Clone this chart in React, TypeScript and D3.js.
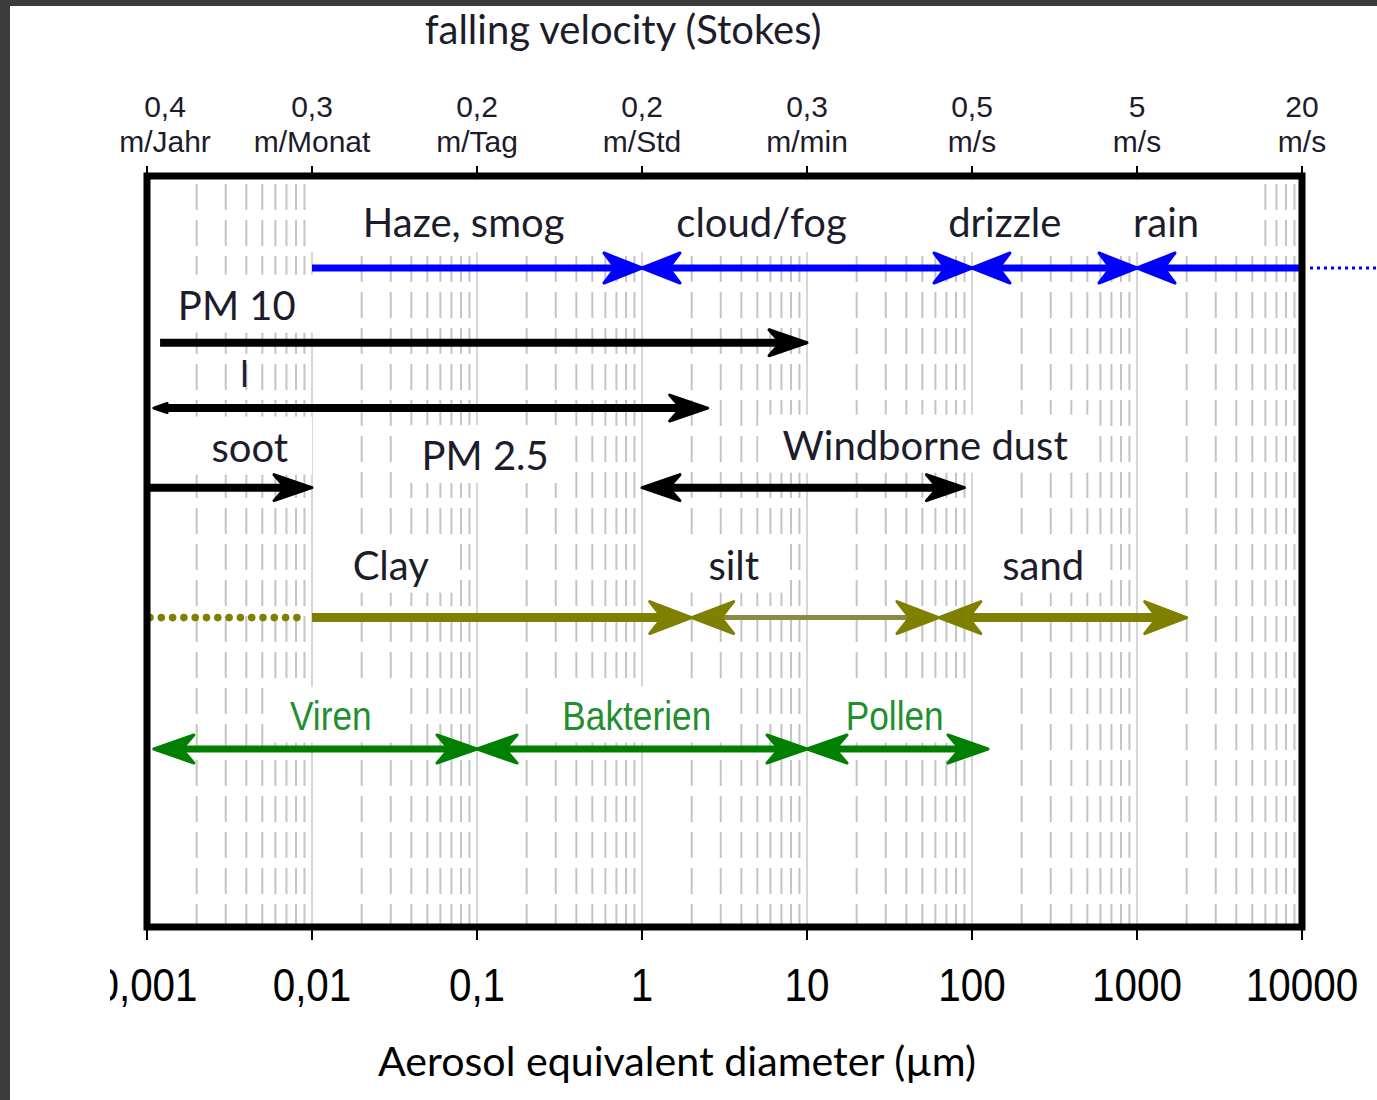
import React, { useEffect, useRef } from 'react';
import * as d3 from 'd3';

// bottom axis: aerosol diameter in µm
const diameterTicks = [0.001, 0.01, 0.1, 1, 10, 100, 1000, 10000];
const diameterLabels = ['0,001', '0,01', '0,1', '1', '10', '100', '1000', '10000'];

// top axis: falling velocity (Stokes) at each decade
const velocityValues = ['0,4', '0,3', '0,2', '0,2', '0,3', '0,5', '5', '20'];
const velocityUnits = ['m/Jahr', 'm/Monat', 'm/Tag', 'm/Std', 'm/min', 'm/s', 'm/s', 'm/s'];

// atmospheric water
const weatherNames = ['Haze, smog', 'cloud/fog', 'drizzle', 'rain'];
const weatherFrom = [0.01, 1, 100, 1000];
const weatherTo = [1, 100, 1000, 10000];
const weatherLabelAt = [0.083, 5.3, 158, 1500];
const weatherHeads = ['end', 'both', 'both', 'start'];

// particulate matter
const pmNames = ['PM 10', 'PM 2.5', 'soot', 'Windborne dust'];
const pmFrom = [0.0012, 0.0011, 0.00104, 1];
const pmTo = [10, 2.5, 0.01, 90];
const pmLabelAt = [0.0035, 0.112, 0.0042, 52];
const pmHeads = ['end', 'both', 'end', 'both'];

// soil fractions
const soilNames = ['Clay', 'silt', 'sand'];
const soilFrom = [0.01, 2, 63];
const soilTo = [2, 63, 2000];
const soilLabelAt = [0.03, 3.6, 270];
const soilHeads = ['end', 'both', 'both'];
const clayDotted = [0.001, 0.01];

// biological particles
const bioNames = ['Viren', 'Bakterien', 'Pollen'];
const bioFrom = [0.0011, 0.1, 10];
const bioTo = [0.1, 10, 125];
const bioLabelAt = [0.013, 0.93, 34];
const bioHeads = ['both', 'both', 'both'];

const W = 1377;
const H = 1100;
const calibri = 'Lato, "Open Sans", sans-serif';
const arial = '"Liberation Sans", Arial, sans-serif';

export default function App() {
  const ref = useRef<SVGSVGElement>(null);

  useEffect(() => {
    const svg = d3.select(ref.current);
    svg.selectAll('*').remove();

    const left = 147, right = 1302, top = 176, bottom = 927;
    const x = d3.scaleLog().domain([0.001, 10000]).range([left, right]);
    // vertical layout of the rows, in percent of the plot height
    const y = d3.scaleLinear().domain([0, 100]).range([top, bottom]);

    // dark frame + white page
    svg.append('rect').attr('width', W).attr('height', H).attr('fill', '#3b3b3b');
    svg.append('rect').attr('x', 10).attr('y', 6).attr('width', W - 10).attr('height', H - 6).attr('fill', '#fff');

    // grid
    const grid = svg.append('g');
    const minors: number[] = [];
    diameterTicks.slice(0, -1).forEach((d) => {
      for (let m = 2; m <= 9; m++) minors.push(d * m);
    });
    grid.selectAll('line.minor')
      .data(minors)
      .enter()
      .append('line')
      .attr('x1', (d) => x(d)).attr('x2', (d) => x(d))
      .attr('y1', top + 8).attr('y2', bottom)
      .attr('stroke', '#c4c4c4')
      .attr('stroke-width', 2)
      .attr('stroke-dasharray', '26 10');
    grid.selectAll('line.major')
      .data(diameterTicks.slice(1, -1))
      .enter()
      .append('line')
      .attr('x1', (d) => x(d)).attr('x2', (d) => x(d))
      .attr('y1', top).attr('y2', bottom)
      .attr('stroke', '#c8c8c8')
      .attr('stroke-width', 1.5);

    const boxes = svg.append('g');
    const marks = svg.append('g');
    const labels = svg.append('g');

    const arrow = (x1: number, x2: number, yy: number, color: string, width: number,
      heads: string, L: number, Wd: number, startScale = 1, headColor = color) => {
      const N = L * 0.3;
      const hasStart = heads === 'start' || heads === 'both';
      const hasEnd = heads === 'end' || heads === 'both';
      const a = hasStart ? x1 + (L * startScale - N * startScale) - 2 : x1;
      const b = hasEnd ? x2 - (L - N) + 2 : x2;
      marks.append('line')
        .attr('x1', a).attr('x2', b).attr('y1', yy).attr('y2', yy)
        .attr('stroke', color).attr('stroke-width', width);
      const head = (tx: number, dir: number, s: number) => {
        const l = L * s, w = Wd * s, n = N * s;
        const pts = [[tx, yy], [tx - dir * l, yy - w], [tx - dir * (l - n), yy], [tx - dir * l, yy + w]];
        marks.append('path')
          .attr('d', d3.line()(pts as [number, number][]) + 'Z')
          .attr('fill', headColor)
          .attr('stroke', headColor)
          .attr('stroke-width', 3)
          .attr('stroke-linejoin', 'round');
      };
      if (hasEnd) head(x2, 1, 1);
      if (hasStart) head(x1, -1, startScale);
    };

    const label = (text: string, cx: number, base: number, color: string, font: string,
      size: number, sx = 1) => {
      const g = labels.append('g');
      g.append('text')
        .attr('transform', `translate(${cx},${base}) scale(${sx},1)`)
        .attr('text-anchor', 'middle')
        .attr('fill', color)
        .style('font-family', font)
        .style('font-size', `${size}px`)
        .text(text);
      const bb = (g.node() as SVGGElement).getBBox();
      boxes.append('rect')
        .attr('x', bb.x - 24).attr('y', bb.y - 6)
        .attr('width', bb.width + 48).attr('height', bb.height + 10)
        .attr('fill', '#fff');
      return bb;
    };

    const textColor = '#1c1c2c';

    // weather row, its labels sit in one wide text box
    const yW = y(12.25);
    let bandRight = 0;
    weatherNames.forEach((n, i) => {
      const bb = label(n, x(weatherLabelAt[i]), yW - 31, textColor, calibri, 40);
      bandRight = Math.max(bandRight, bb.x + bb.width + 60);
      arrow(x(weatherFrom[i]), x(weatherTo[i]), yW, '#0000ff', 7, weatherHeads[i], 38, 15);
    });
    boxes.append('rect')
      .attr('x', x(weatherFrom[0]) - 6).attr('y', top + 4)
      .attr('width', bandRight - x(weatherFrom[0]) + 6).attr('height', yW - top - 20)
      .attr('fill', '#fff');
    marks.append('line')
      .attr('x1', right + 8).attr('x2', W).attr('y1', yW).attr('y2', yW)
      .attr('stroke', '#0000ff').attr('stroke-width', 3).attr('stroke-dasharray', '3 4');

    // particulate matter rows
    const pmLevels = [22.2, 30.9, 41.5, 41.5];
    const pmLift = [23, -62, 26, 28];
    pmNames.forEach((n, i) => {
      const yy = y(pmLevels[i]);
      label(n, x(pmLabelAt[i]), yy - pmLift[i], textColor, calibri, 40);
      arrow(x(pmFrom[i]), x(pmTo[i]), yy, '#000', 8, pmHeads[i], 38, 13, i === 1 ? 0.35 : 1);
    });
    // stray mark under PM 10
    labels.append('text')
      .attr('x', x(0.0039)).attr('y', y(22.2) + 44)
      .attr('text-anchor', 'middle').attr('fill', textColor)
      .style('font-family', calibri).style('font-size', '36px')
      .text('l');

    // soil rows
    const yS = y(58.8);
    soilNames.forEach((n, i) => {
      label(n, x(soilLabelAt[i]), yS - 38, textColor, calibri, 40);
      arrow(x(soilFrom[i]), x(soilTo[i]), yS, i === 1 ? '#8a8a40' : '#808000', i === 1 ? 5 : 9,
        soilHeads[i], 42, 16, 1, '#808000');
    });
    const dots = d3.range(x(clayDotted[0]) + 3, x(clayDotted[1]) - 4, 11.3);
    marks.selectAll('circle.clay')
      .data(dots)
      .enter()
      .append('circle')
      .attr('cx', (d) => d).attr('cy', yS).attr('r', 3.8)
      .attr('fill', '#808000');

    // biological row
    const yB = y(76.3);
    bioNames.forEach((n, i) => {
      label(n, x(bioLabelAt[i]), yB - 19, '#1f8f2f', arial, 41, 0.86);
      arrow(x(bioFrom[i]), x(bioTo[i]), yB, '#007f00', 7, bioHeads[i], 40, 14);
    });

    // plot frame
    svg.append('rect')
      .attr('x', left).attr('y', top)
      .attr('width', right - left).attr('height', bottom - top)
      .attr('fill', 'none').attr('stroke', '#000').attr('stroke-width', 7);

    // ticks
    svg.append('g').selectAll('line')
      .data(diameterTicks)
      .enter()
      .append('line')
      .attr('x1', (d) => x(d)).attr('x2', (d) => x(d))
      .attr('y1', top - 10).attr('y2', top)
      .attr('stroke', '#000').attr('stroke-width', 2);
    svg.append('g').selectAll('line')
      .data(diameterTicks)
      .enter()
      .append('line')
      .attr('x1', (d) => x(d)).attr('x2', (d) => x(d))
      .attr('y1', bottom).attr('y2', bottom + 13)
      .attr('stroke', '#000').attr('stroke-width', 2);

    // bottom tick labels (leftmost clipped by the page edge)
    svg.append('clipPath').attr('id', 'pageclip')
      .append('rect').attr('x', 110).attr('y', 0).attr('width', W).attr('height', H);
    svg.append('g').attr('clip-path', 'url(#pageclip)')
      .selectAll('text')
      .data(diameterLabels)
      .enter()
      .append('text')
      .attr('transform', (d, i) => `translate(${x(diameterTicks[i])},1001) scale(0.86,1)`)
      .attr('text-anchor', 'middle')
      .attr('fill', '#000')
      .style('font-family', arial)
      .style('font-size', '47px')
      .text((d) => d);

    // top tick labels
    const topLab = svg.append('g').selectAll('g')
      .data(velocityValues)
      .enter()
      .append('g')
      .attr('transform', (d, i) => `translate(${x(diameterTicks[i]) + (i === 0 ? 18 : 0)},0)`);
    topLab.append('text')
      .attr('y', 117).attr('text-anchor', 'middle').attr('fill', '#1c1c2c')
      .style('font-family', arial).style('font-size', '30px')
      .text((d) => d);
    topLab.append('text')
      .attr('y', 152).attr('text-anchor', 'middle').attr('fill', '#1c1c2c')
      .style('font-family', arial).style('font-size', '30px')
      .text((d, i) => velocityUnits[i]);

    // titles
    svg.append('text')
      .attr('x', 623).attr('y', 44).attr('text-anchor', 'middle')
      .attr('fill', textColor)
      .style('font-family', calibri).style('font-size', '40px')
      .text('falling velocity (Stokes)');
    svg.append('text')
      .attr('x', 677).attr('y', 1076).attr('text-anchor', 'middle')
      .attr('fill', '#000')
      .attr('textLength', 598).attr('lengthAdjust', 'spacingAndGlyphs')
      .style('font-family', calibri).style('font-size', '40px')
      .text('Aerosol equivalent diameter (µm)');
  }, []);

  return (
    <div style={{ position: 'absolute', left: 0, top: 0, width: W, height: H }}>
      <svg ref={ref} width={W} height={H} />
    </div>
  );
}
